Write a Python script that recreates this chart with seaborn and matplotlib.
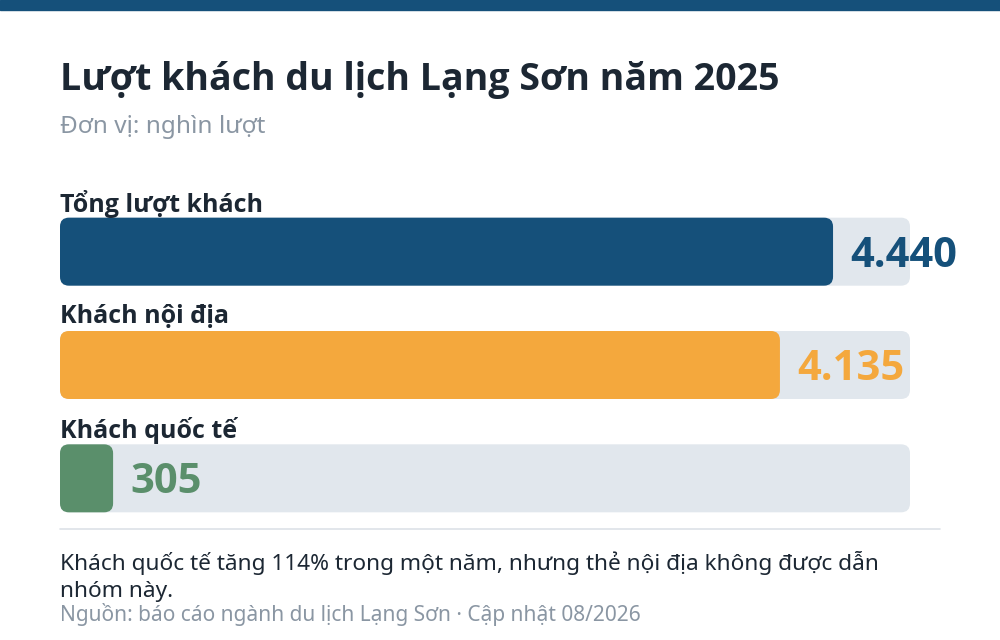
import matplotlib
matplotlib.use("Agg")
import matplotlib.pyplot as plt
import seaborn as sns
import pandas as pd
from matplotlib.patches import FancyBboxPatch, Rectangle

categories = ["Tổng lượt khách", "Khách nội địa", "Khách quốc tế"]
values = [4440, 4135, 305]
labels = ["4.440", "4.135", "305"]
colors = ["#15507a", "#f4a83d", "#5a8f6b"]
track_max = 4882

sns.set_theme(style="white")
plt.rcParams['font.family'] = ['Noto Sans', 'DejaVu Sans']
BOLD = ['Open Sans', 'DejaVu Sans']

W, H = 1000, 640
fig = plt.figure(figsize=(10, 6.4), dpi=100)
fig.patches.append(Rectangle((0, 1 - 10 / H), 1, 10 / H, transform=fig.transFigure,
                             color="#15507a", zorder=0))
fig.text(60 / W, 1 - 80 / H, "Lượt khách du lịch Lạng Sơn năm 2025", fontsize=27,
         fontweight="bold", family=BOLD, color="#1c2733", va="center")
fig.text(60 / W, 1 - 127 / H, "Đơn vị: nghìn lượt", fontsize=17.5, color="#8a96a3", va="center")

ax = fig.add_axes([60 / W, 1 - 535 / H, 850 / W, 340 / H])
df = pd.DataFrame({"cat": categories, "val": values})
sns.barplot(data=df, x="val", y="cat", hue="cat", palette=colors, width=0.6,
            ax=ax, legend=False)
ax.set_xlim(0, track_max)
ax.set_ylim(2.5, -0.5)
ax.axis("off")

xpp = track_max / 850
ypp = 1 / (340 / 3)
asp = ypp / xpp
r = 9 * xpp
for i, p in enumerate(list(ax.patches)):
    x0, y0, w, h = p.get_x(), p.get_y(), p.get_width(), p.get_height()
    p.remove()
    ax.add_patch(FancyBboxPatch((0, y0), track_max, h, boxstyle=f"round,pad=0,rounding_size={r}",
                                mutation_aspect=asp, fc="#e1e7ed", ec="none", zorder=1))
    ax.add_patch(FancyBboxPatch((x0, y0), w, h, boxstyle=f"round,pad=0,rounding_size={r}",
                                mutation_aspect=asp, fc=colors[i], ec="none", zorder=2))
    ax.text(w + 17 * xpp, i + 0.04, labels[i], fontsize=30, fontweight="bold", family=BOLD,
            color=colors[i], va="center", ha="left", clip_on=False, zorder=3)
    ax.text(0, y0 - 14 * ypp, categories[i], fontsize=18, fontweight="bold", family=BOLD,
            color="#1c2733", va="center", ha="left", clip_on=False)

fig.add_artist(plt.Line2D([60 / W, 940 / W], [1 - 529 / H] * 2, color="#dde2e7", lw=1.2))
fig.text(60 / W, 1 - 563 / H, "Khách quốc tế tăng 114% trong một năm, nhưng thẻ nội địa không được dẫn",
         fontsize=16.3, color="#1c2733", va="center")
fig.text(60 / W, 1 - 592 / H, "nhóm này.", fontsize=16.3, color="#1c2733", va="center")
fig.text(60 / W, 1 - 615 / H, "Nguồn: báo cáo ngành du lịch Lạng Sơn · Cập nhật 08/2026",
         fontsize=15, color="#8a96a3", va="center")

fig.savefig("out.png", dpi=100, facecolor="white")
